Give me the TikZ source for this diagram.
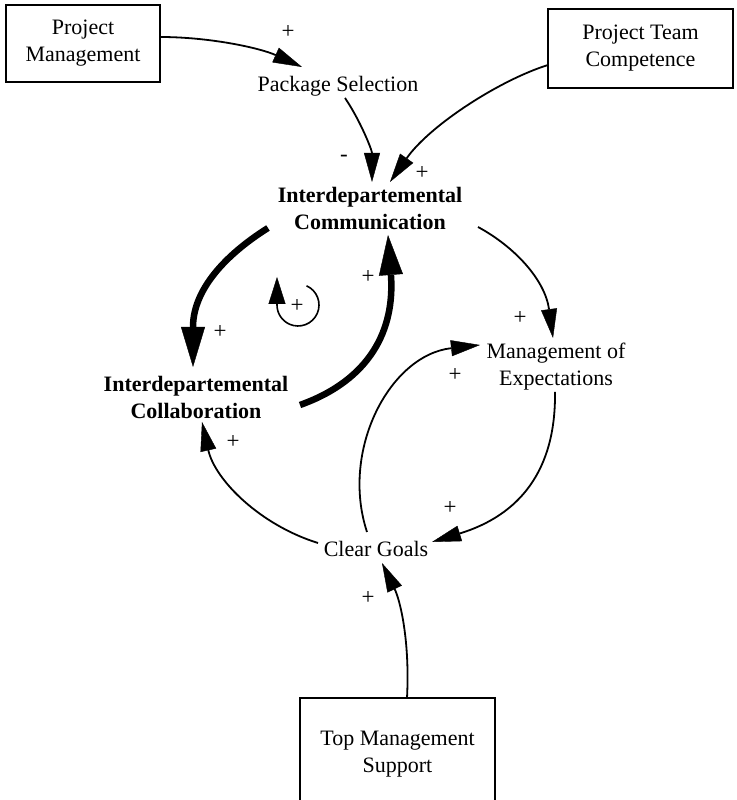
\documentclass[tikz,border=0pt]{standalone}
\usepackage{fontspec}
\setmainfont{Liberation Serif}
\usetikzlibrary{arrows.meta}
\begin{document}
\begin{tikzpicture}[x=1pt,y=1pt,
  every node/.style={font=\fontsize{22}{27}\selectfont, align=center, inner sep=0pt},
  box/.style={draw, line width=1.6pt},
  key/.style={font=\fontsize{22}{27}\selectfont\bfseries},
  sign/.style={font=\fontsize{23}{26}\selectfont},
  link/.style={line width=1.8pt, -{Triangle[length=29pt,width=16pt,line width=0.4pt]}},
  strong/.style={line width=6.5pt, -{Triangle[length=40pt,width=24pt,line width=0.4pt]}},
  loopline/.style={line width=1.6pt, -{Triangle[length=27pt,width=17pt,line width=0.4pt]}},
]
\useasboundingbox (0,0) rectangle (736,800);

% boxes
\node[box, minimum width=154pt, minimum height=77pt] (pm) at (83,756.5) {Project\\Management};
\node[box, minimum width=185pt, minimum height=79pt] (ptc) at (640.5,751.5) {Project Team\\Competence};
\node[box, minimum width=195pt, minimum height=112pt] (tms) at (397.5,46) {Top Management\\Support};

% variables
\node (ps) at (338,714) {Package Selection};
\node[key] (ic) at (370,591.5) {Interdepartemental\\Communication};
\node[key] (icol) at (196,403) {Interdepartemental\\Collaboration};
\node (me) at (556,433) {Management of\\Expectations};
\node (cg) at (376,251) {Clear Goals};

% connectors
\draw[link] ([shift={(77,6.5)}]pm.center) .. controls (210,763) and (260,752) .. ([shift={(-36,19)}]ps.center);
\draw[link] ([shift={(7,-12)}]ps.center) .. controls (360,680) and (372,650) .. ([shift={(2,26.5)}]ic.center);
\draw[link] ([shift={(-92.5,-16.5)}]ptc.center) .. controls (500,720) and (430,675) .. ([shift={(20,26.5)}]ic.center);
\draw[strong] ([shift={(-102,-19.5)}]ic.center) .. controls (225,545) and (193,510) .. ([shift={(-3,30)}]icol.center);
\draw[strong] ([shift={(104,-8)}]icol.center) .. controls (370,420) and (395,470) .. ([shift={(18,-26.5)}]ic.center);
\draw[link] ([shift={(108,-18.5)}]ic.center) .. controls (515,553) and (545,520) .. ([shift={(-3,29)}]me.center);
\draw[link] ([shift={(-9,17)}]cg.center) .. controls (340,350) and (390,445) .. ([shift={(-76,22)}]me.center);
\draw[link] ([shift={(-1,-25)}]me.center) .. controls (556,330) and (520,285) .. ([shift={(56,7)}]cg.center);
\draw[link] ([shift={(-58,6)}]cg.center) .. controls (260,275) and (215,320) .. ([shift={(6,-25)}]icol.center);
\draw[link] ([shift={(9.5,56)}]tms.center) .. controls (410,160) and (400,200) .. ([shift={(6,-14)}]cg.center);

% loop symbol
\coordinate (lc) at (298,495);
\draw[loopline] (lc) ++(66:21) arc[start angle=66, end angle=-180, radius=21] -- ++(0,28);

% polarity signs
\node[sign] (s1) at (288,768) {+};
\node[sign] (s2) at (344,642) {-};
\node[sign] (s3) at (422,627) {+};
\node[sign] (s4) at (368,523) {+};
\node[sign] (s5) at (220,468) {+};
\node[sign] (s6) at (297,494) {+};
\node[sign] (s7) at (520,482) {+};
\node[sign] (s8) at (455,425) {+};
\node[sign] (s9) at (450,292) {+};
\node[sign] (s10) at (233,358) {+};
\node[sign] (s11) at (368,202) {+};
\end{tikzpicture}
\end{document}
